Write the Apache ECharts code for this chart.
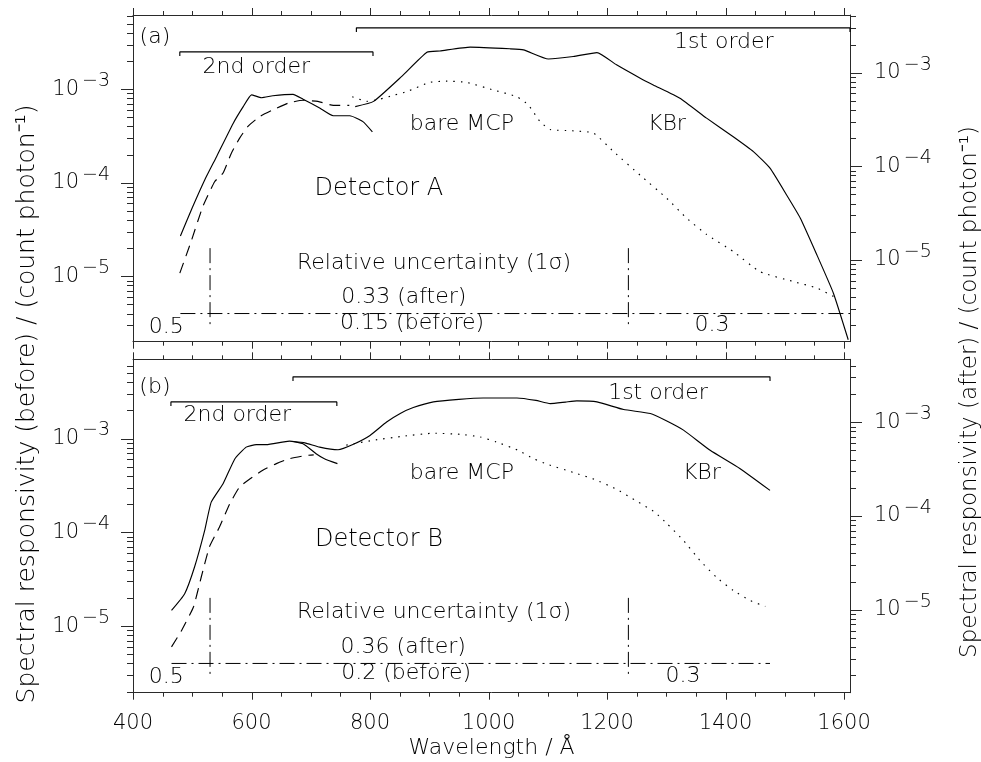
<!DOCTYPE html>
<html>
<head>
<meta charset="utf-8">
<script src="https://cdn.jsdelivr.net/npm/echarts@6/dist/echarts.min.js"></script>
<style>
  html, body { margin: 0; padding: 0; background: #fff; }
  #chart { width: 981px; height: 762px; }
</style>
</head>
<body>
<div id="chart"></div>
<script>
// ---------- axes ----------
const xMin = 400, xMax = 1610, xStep = 200, xMinorStep = 50;
const aRange = [2e-6, 6.2e-3];      // detector A, "before" scale
const bRange = [1.95e-6, 7e-3];     // detector B, "before" scale
const aAfterScale = 0.667;          // "after" = "before" x factor
const bAfterScale = 0.67;

// ---------- detector A ----------
const aKbr2Wl  = [480, 500, 521, 541, 569, 586, 600, 617, 636, 670, 687, 715, 738, 766, 788, 804];
const aKbr2Val = [2.7e-5, 5.4e-5, 1.07e-4, 1.9e-4, 4.3e-4, 6.5e-4, 8.7e-4, 8.1e-4, 8.5e-4, 8.8e-4, 7.8e-4, 6.3e-4, 5.2e-4, 5.2e-4, 4.5e-4, 3.5e-4];
const aBare2Wl  = [479, 498, 518, 538, 552, 566, 580, 594, 614, 636, 662, 687, 712, 738, 765];
const aBare2Val = [1.08e-5, 2.35e-5, 5.6e-5, 1.03e-4, 1.27e-4, 2.07e-4, 3.0e-4, 4.0e-4, 5.1e-4, 6.0e-4, 7.1e-4, 7.6e-4, 7.4e-4, 6.7e-4, 6.7e-4];
const aKbr1Wl  = [775, 806, 853, 896, 918, 969, 1036, 1059, 1101, 1143, 1183, 1216, 1256, 1278, 1323, 1368, 1413, 1447, 1475, 1503, 1526, 1554, 1582, 1607];
const aKbr1Val = [6.5e-4, 7.4e-4, 1.36e-3, 2.48e-3, 2.56e-3, 2.81e-3, 2.7e-3, 2.63e-3, 2.1e-3, 2.23e-3, 2.46e-3, 1.82e-3, 1.31e-3, 1.11e-3, 8.0e-4, 4.9e-4, 3.1e-4, 2.15e-4, 1.43e-4, 7.4e-5, 4.2e-5, 1.7e-5, 6.6e-6, 2.1e-6];
const aBare1Wl  = [770, 795, 816, 840, 862, 900, 930, 963, 1008, 1048, 1067, 1087, 1104, 1138, 1177, 1211, 1256, 1301, 1334, 1368, 1413, 1458, 1514, 1554, 1582];
const aBare1Val = [8.3e-4, 7.4e-4, 7.8e-4, 8.6e-4, 9.4e-4, 1.18e-3, 1.22e-3, 1.18e-3, 9.8e-4, 8.3e-4, 6.8e-4, 4.5e-4, 3.7e-4, 3.6e-4, 3.4e-4, 2.15e-4, 1.2e-4, 6.8e-5, 4.2e-5, 2.8e-5, 1.84e-5, 1.12e-5, 8.8e-6, 7.5e-6, 6.1e-6];

// ---------- detector B ----------
const bKbr2Wl  = [465, 487, 504, 521, 532, 552, 572, 591, 608, 625, 664, 687, 709, 723, 745];
const bKbr2Val = [1.47e-5, 2.2e-5, 4.3e-5, 1.05e-4, 2.1e-4, 3.3e-4, 6.1e-4, 8.1e-4, 8.6e-4, 8.6e-4, 9.4e-4, 8.8e-4, 6.9e-4, 6.1e-4, 5.4e-4];
const bBare2Wl  = [465, 482, 502, 515, 529, 546, 563, 580, 597, 619, 642, 664, 692, 705];
const bBare2Val = [6e-6, 9e-6, 1.6e-5, 3.3e-5, 7e-5, 1.14e-4, 2.0e-4, 3.05e-4, 3.7e-4, 4.6e-4, 5.4e-4, 6.1e-4, 6.6e-4, 6.7e-4];
const bKbr1Wl  = [670, 690, 715, 746, 772, 800, 828, 851, 873, 907, 950, 991, 1048, 1080, 1104, 1130, 1149, 1183, 1228, 1273, 1300, 1329, 1374, 1424, 1475];
const bKbr1Val = [9.3e-4, 9.0e-4, 8.1e-4, 7.6e-4, 8.7e-4, 1.08e-3, 1.5e-3, 1.85e-3, 2.14e-3, 2.46e-3, 2.62e-3, 2.71e-3, 2.71e-3, 2.55e-3, 2.36e-3, 2.45e-3, 2.52e-3, 2.46e-3, 2.04e-3, 1.85e-3, 1.55e-3, 1.23e-3, 7.5e-4, 4.8e-4, 2.8e-4];
const bBare1Wl  = [760, 772, 806, 856, 907, 952, 986, 1013, 1050, 1076, 1100, 1143, 1180, 1215, 1250, 1280, 1301, 1329, 1357, 1385, 1413, 1441, 1467];
const bBare1Val = [8.5e-4, 8.8e-4, 9.6e-4, 1.06e-3, 1.14e-3, 1.11e-3, 1.04e-3, 9.2e-4, 7.5e-4, 6.1e-4, 5.3e-4, 4.35e-4, 3.65e-4, 2.9e-4, 2.15e-4, 1.65e-4, 1.24e-4, 8.2e-5, 5.0e-5, 3.3e-5, 2.4e-5, 1.88e-5, 1.62e-5];

// ---------- grating orders: [start, end, level] ----------
const aOrder2 = [479, 805, 2.5e-3];
const aOrder1 = [777, 1610, 4.52e-3];
const bOrder2 = [464, 744, 2.46e-3];
const bOrder1 = [670, 1475, 4.55e-3];

// ---------- relative-uncertainty bands ----------
const aUncLevel = 4e-6, aUncSpan = [480, 1610];
const bUncLevel = 4e-6, bUncSpan = [465, 1475];
const uncEdges = [530, 1236];
const uncEdgeSpan = [3e-6, 2e-5];

// ---------- annotations: [wavelength, responsivity, text] ----------
const aNotes = [
  [437, 3.62e-3, '(a)'], [608, 1.73e-3, '2nd order'], [1397, 3.13e-3, '1st order'],
  [955, 4.26e-4, 'bare MCP'], [1301, 4.26e-4, 'KBr'],
  [908, 1.39e-5, 'Relative uncertainty (1σ)'], [857, 6.04e-6, '0.33 (after)'],
  [871, 3.18e-6, '0.15 (before)'], [456, 2.82e-6, '0.5'], [1377, 2.96e-6, '0.3']
];
const bNotes = [
  [437, 3.53e-3, '(b)'], [576, 1.77e-3, '2nd order'], [1286, 3.04e-3, '1st order'],
  [955, 4.26e-4, 'bare MCP'], [1360, 4.26e-4, 'KBr'],
  [908, 1.4e-5, 'Relative uncertainty (1σ)'], [856, 5.93e-6, '0.36 (after)'],
  [861, 3.13e-6, '0.2 (before)'], [456, 2.83e-6, '0.5'], [1328, 2.9e-6, '0.3']
];
const aTitle = [[815, 8.6e-5, 'Detector A']];
const bTitle = [[815, 8.4e-5, 'Detector B']];

// ---------- styling ----------
const FONT = 'DejaVu Sans';
const WEIGHT = 200;
const INK = '#000';
const AXIS = '#2a2a2a';
const TXT = 21;
const NOTE = 22;

const zip = (xs, ys) => xs.map((x, i) => [x, ys[i]]);

function curve(name, wl, val, xi, yi, type) {
  return {
    name, type: 'line', xAxisIndex: xi, yAxisIndex: yi,
    data: zip(wl, val), showSymbol: false, smooth: 0.15, silent: true,
    lineStyle: { color: '#000', width: 1.15, type: type }
  };
}

// bracket with small downward end marks
function bracket(name, o, xi, yi) {
  const drop = 0.905;
  return {
    name, type: 'line', xAxisIndex: xi, yAxisIndex: yi, showSymbol: false, silent: true,
    data: [[o[0], o[2] * drop], [o[0], o[2]], [o[1], o[2]], [o[1], o[2] * drop]],
    lineStyle: { color: '#000', width: 1.15 }
  };
}

const DASHDOT = [15, 5, 2, 5];
function uncertaintyLines(name, level, span, xi, yi) {
  const out = [{
    name, type: 'line', xAxisIndex: xi, yAxisIndex: yi, showSymbol: false, silent: true,
    data: [[span[0], level], [span[1], level]],
    lineStyle: { color: '#000', width: 1, type: DASHDOT }
  }];
  uncEdges.forEach((e, k) => out.push({
    name: name + '-edge' + k, type: 'line', xAxisIndex: xi, yAxisIndex: yi, showSymbol: false, silent: true,
    data: [[e, uncEdgeSpan[1]], [e, uncEdgeSpan[0]]],
    lineStyle: { color: '#000', width: 1, type: DASHDOT }
  }));
  return out;
}

function textSeries(name, notes, xi, yi, size) {
  return {
    name, type: 'custom', xAxisIndex: xi, yAxisIndex: yi, silent: true,
    data: notes.map(n => [n[0], n[1]]),
    renderItem: (params, api) => {
      const p = api.coord([api.value(0), api.value(1)]);
      return {
        type: 'text', x: p[0], y: p[1],
        style: {
          text: notes[params.dataIndex][2], fill: INK, fontSize: size,
          fontFamily: FONT, fontWeight: WEIGHT, align: 'center', verticalAlign: 'middle'
        }
      };
    }
  };
}

// ---------- tick marks (log minor ticks + x minor ticks) ----------
function xTickItems(yRef) {
  const items = [];
  for (let v = xMin; v <= 1600; v += xMinorStep) items.push([v, yRef, v % xStep === 0 ? 0 : 1]);
  return items;
}
function yTickItems(lo, hi) {
  const items = [];
  for (let e = Math.floor(Math.log10(lo)); e <= Math.ceil(Math.log10(hi)); e++) {
    for (let m = 1; m <= 9; m++) {
      const v = m * Math.pow(10, e);
      if (v > lo * 1.002 && v < hi * 0.998) items.push([xMin + 1, v, m === 1 ? 2 : 3]);
    }
  }
  return items;
}
function tickSeries(name, items, xi, yi, side) {
  return {
    name, type: 'custom', xAxisIndex: xi, yAxisIndex: yi, silent: true, clip: false,
    data: items,
    renderItem: (params, api) => {
      const cs = params.coordSys;
      const kind = api.value(2);
      const p = api.coord([api.value(0), api.value(1)]);
      const st = { stroke: AXIS, lineWidth: 1 };
      if (kind <= 1) {
        const len = kind === 0 ? 7 : 4;
        const x = Math.round(p[0]) + 0.5;
        const yb = cs.y + cs.height, yt = cs.y;
        return {
          type: 'group', children: [
            { type: 'line', shape: { x1: x, y1: yb, x2: x, y2: yb + len }, style: st },
            { type: 'line', shape: { x1: x, y1: yt, x2: x, y2: yt - len }, style: st }
          ]
        };
      }
      const len = kind === 2 ? 12 : 6;
      const y = Math.round(p[1]) + 0.5;
      const x0 = side === 'left' ? cs.x : cs.x + cs.width;
      const dir = side === 'left' ? -1 : 1;
      return { type: 'line', shape: { x1: x0, y1: y, x2: x0 + dir * len, y2: y }, style: st };
    }
  };
}

// ---------- axis builders ----------
const expFormatter = v => {
  const e = Math.log10(v);
  const r = Math.round(e);
  if (Math.abs(e - r) > 1e-6) return '';
  return '{b|10}{s|\u2212' + Math.abs(r) + '}';
};
const expRich = {
  b: { fontSize: TXT, fontFamily: FONT, fontWeight: WEIGHT, color: INK },
  s: { fontSize: 19, fontFamily: FONT, fontWeight: WEIGHT, color: INK, padding: [0, 0, 16, 3] }
};

function xAxis(grid, position, labels) {
  const ax = {
    gridIndex: grid, type: 'value', min: xMin, max: xMax, interval: xStep, position,
    axisLine: { onZero: false, lineStyle: { color: AXIS, width: 1 } },
    axisTick: { show: false }, splitLine: { show: false },
    axisLabel: { show: false }
  };
  if (labels) {
    ax.axisLabel = {
      show: true, interval: 0, margin: 20, color: INK, fontSize: TXT, fontFamily: FONT, fontWeight: WEIGHT,
      formatter: v => (v % xStep === 0 ? String(v) : '')
    };
    ax.name = 'Wavelength / \u00C5';
    ax.nameLocation = 'middle';
    ax.nameGap = 45;
    ax.nameTextStyle = { color: INK, fontSize: NOTE, fontFamily: FONT, fontWeight: WEIGHT };
  }
  return ax;
}
function yAxis(grid, position, range) {
  return {
    gridIndex: grid, type: 'log', logBase: 10, min: range[0], max: range[1], position,
    axisLine: { show: true, onZero: false, lineStyle: { color: AXIS, width: 1 } },
    axisTick: { show: false }, splitLine: { show: false }, minorTick: { show: false },
    axisLabel: { show: true, margin: position === 'left' ? 23 : 24, formatter: expFormatter, rich: expRich }
  };
}

const aAfter = [aRange[0] * aAfterScale, aRange[1] * aAfterScale];
const bAfter = [bRange[0] * bAfterScale, bRange[1] * bAfterScale];

const option = {
  backgroundColor: '#fff',
  animation: false,
  grid: [
    { left: 133, top: 15, width: 717, height: 326.7 },
    { left: 133, top: 359.3, width: 717, height: 333.4 }
  ],
  xAxis: [
    xAxis(0, 'bottom', false), xAxis(0, 'top', false),
    xAxis(1, 'bottom', true), xAxis(1, 'top', false)
  ],
  yAxis: [
    yAxis(0, 'left', aRange), yAxis(0, 'right', aAfter),
    yAxis(1, 'left', bRange), yAxis(1, 'right', bAfter)
  ],
  graphic: [
    {
      type: 'text', x: 27, y: 404, rotation: Math.PI / 2, silent: true,
      style: {
        text: 'Spectral responsivity (before) / (count photon\u207B\u00B9)', fill: INK,
        fontSize: 25, fontFamily: FONT, fontWeight: WEIGHT, align: 'center', verticalAlign: 'middle'
      }
    },
    {
      type: 'text', x: 970, y: 392, rotation: Math.PI / 2, silent: true,
      style: {
        text: 'Spectral responsivity (after) / (count photon\u207B\u00B9)', fill: INK,
        fontSize: 23, fontFamily: FONT, fontWeight: WEIGHT, align: 'center', verticalAlign: 'middle'
      }
    }
  ],
  series: [
    // detector A
    curve('A KBr 2nd', aKbr2Wl, aKbr2Val, 0, 0, 'solid'),
    curve('A bare 2nd', aBare2Wl, aBare2Val, 0, 0, [11, 7]),
    curve('A KBr 1st', aKbr1Wl, aKbr1Val, 0, 0, 'solid'),
    curve('A bare 1st', aBare1Wl, aBare1Val, 0, 0, [1.5, 6]),
    bracket('A order 2', aOrder2, 0, 0),
    bracket('A order 1', aOrder1, 0, 0),
    ...uncertaintyLines('A unc', aUncLevel, aUncSpan, 0, 0),
    textSeries('A notes', aNotes, 0, 0, NOTE),
    textSeries('A title', aTitle, 0, 0, 24),
    tickSeries('A ticks left', xTickItems(aRange[0]).concat(yTickItems(aRange[0], aRange[1])), 0, 0, 'left'),
    tickSeries('A ticks right', yTickItems(aAfter[0], aAfter[1]), 0, 1, 'right'),
    // detector B
    curve('B KBr 2nd', bKbr2Wl, bKbr2Val, 2, 2, 'solid'),
    curve('B bare 2nd', bBare2Wl, bBare2Val, 2, 2, [11, 7]),
    curve('B KBr 1st', bKbr1Wl, bKbr1Val, 2, 2, 'solid'),
    curve('B bare 1st', bBare1Wl, bBare1Val, 2, 2, [1.5, 6]),
    bracket('B order 2', bOrder2, 2, 2),
    bracket('B order 1', bOrder1, 2, 2),
    ...uncertaintyLines('B unc', bUncLevel, bUncSpan, 2, 2),
    textSeries('B notes', bNotes, 2, 2, NOTE),
    textSeries('B title', bTitle, 2, 2, 24),
    tickSeries('B ticks left', xTickItems(bRange[0]).concat(yTickItems(bRange[0], bRange[1])), 2, 2, 'left'),
    tickSeries('B ticks right', yTickItems(bAfter[0], bAfter[1]), 2, 3, 'right')
  ]
};

const chart = echarts.init(document.getElementById('chart'), null, { renderer: 'canvas' });
chart.setOption(option);
</script>
</body>
</html>
